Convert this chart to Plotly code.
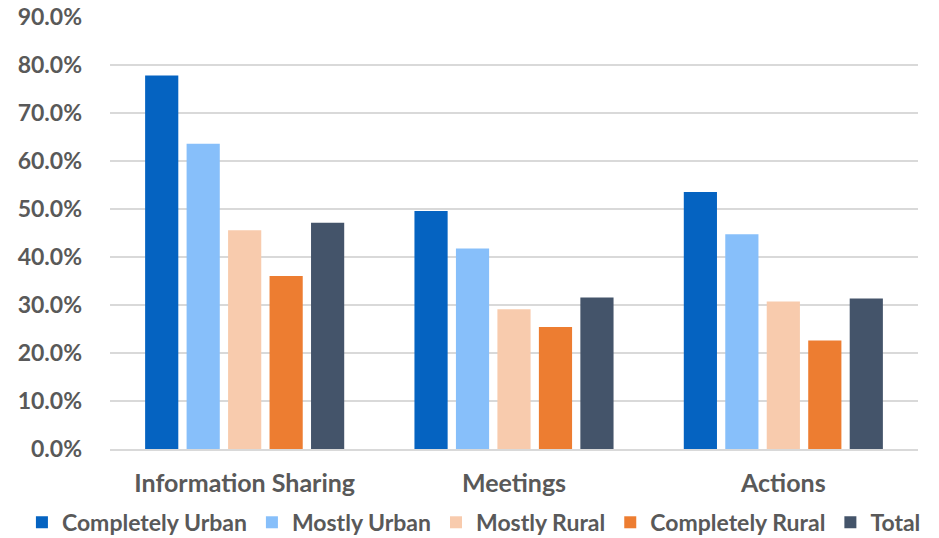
import plotly.graph_objects as go

categories = ["Information Sharing", "Meetings", "Actions"]
series_names = ["Completely Urban", "Mostly Urban", "Mostly Rural", "Completely Rural", "Total"]
completely_urban = [0.777, 0.495, 0.535]
mostly_urban = [0.635, 0.417, 0.447]
mostly_rural = [0.455, 0.291, 0.307]
completely_rural = [0.360, 0.254, 0.226]
total = [0.471, 0.315, 0.313]
colors = ["#0563C1", "#87BFFA", "#F8CBAD", "#ED7D31", "#44546A"]
tick_vals = [i / 10 for i in range(10)]
tick_text = [f"{v*100:.1f}%" for v in tick_vals]

values = [completely_urban, mostly_urban, mostly_rural, completely_rural, total]

fig = go.Figure()
for name, vals, c in zip(series_names, values, colors):
    fig.add_trace(go.Bar(x=categories, y=vals, name=name, marker=dict(color=c, line=dict(width=0))))

font_family = "Lato, 'Open Sans', sans-serif"
fig.update_layout(
    width=939, height=538,
    barmode="group", bargap=0.23, bargroupgap=0.2,
    plot_bgcolor="white", paper_bgcolor="white",
    margin=dict(l=110, r=21, t=16, b=89, autoexpand=False),
    font=dict(family=font_family, color="#595959", size=20),
    legend=dict(orientation="h", x=-0.109, xanchor="left", y=-0.219, yanchor="bottom",
                bgcolor="rgba(0,0,0,0)",
                font=dict(size=23, color="#595959", weight="bold"), itemwidth=30,
                traceorder="normal", tracegroupgap=0),
    showlegend=True,
)
fig.update_yaxes(range=[0, 0.901], tickvals=tick_vals + [0.9], ticktext=tick_text + ["90.0%"],
                 showgrid=True, gridcolor="#D9D9D9", gridwidth=1.5, zeroline=False,
                 showline=False, ticks="", ticklabelstandoff=27, automargin=False,
                 ticklabeloverflow="allow",
                 tickfont=dict(size=23, color="#595959", weight="bold"))
fig.update_xaxes(showline=True, linecolor="#D9D9D9", linewidth=1.5, ticks="", automargin=False,
                 ticklabeloverflow="allow",
                 tickfont=dict(size=25, color="#595959", weight="bold"), ticklabelstandoff=11)

fig.write_html("out.html", config={"displayModeBar": False},
               post_script="document.body.style.margin='0';document.body.style.overflow='hidden';")
